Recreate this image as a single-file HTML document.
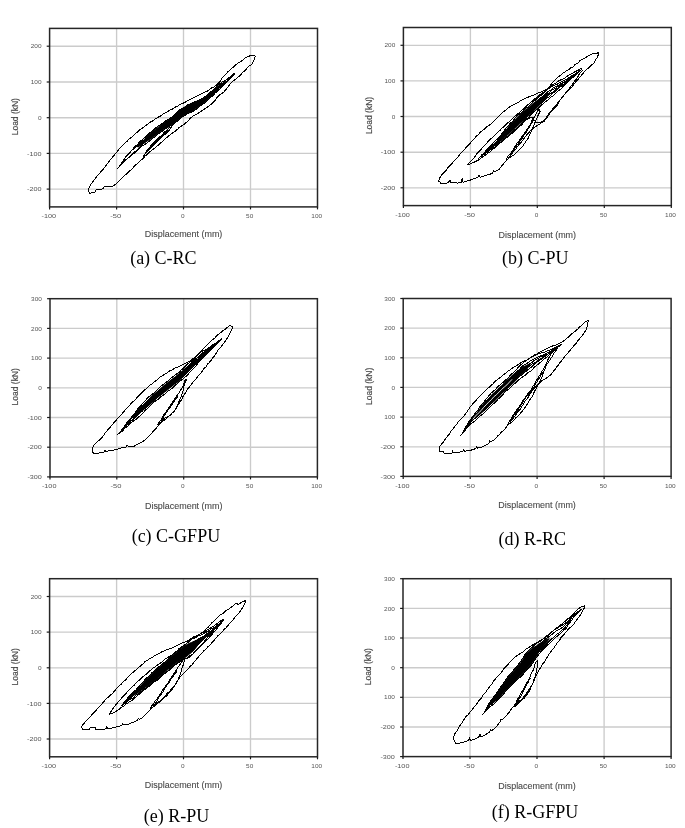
<!DOCTYPE html>
<html><head><meta charset="utf-8"><title>Hysteresis loops</title>
<style>
html,body{margin:0;padding:0;background:#fff;}
svg{display:block;}
.tk{font-family:"Liberation Sans",sans-serif;font-size:6px;fill:#555;}
.ax{font-family:"Liberation Sans",sans-serif;font-size:8.8px;fill:#484848;stroke:#484848;stroke-width:0.1;}
.ay{font-family:"Liberation Sans",sans-serif;font-size:8.8px;fill:#484848;stroke:#484848;stroke-width:0.15;}
.cap{font-family:"Liberation Serif",serif;font-size:18px;fill:#000;}
.g{stroke:#cbcbcb;stroke-width:1.35;fill:none;}
.f{stroke:#262626;stroke-width:1.5;fill:none;}
.t{stroke:#1a1a1a;stroke-width:1.2;fill:none;}
.c{stroke:#000;stroke-width:1;fill:none;stroke-linejoin:round;stroke-linecap:round;shape-rendering:crispEdges;}
.cf{stroke:#000;stroke-width:1;fill:#000;stroke-linejoin:round;}
</style></head><body>
<svg width="685" height="828" viewBox="0 0 685 828" style="filter:blur(0.35px)">
<rect x="0" y="0" width="685" height="828" fill="#fff"/>

<g id="plot-a">
<line class="g" x1="116.6" y1="28.4" x2="116.6" y2="206.9"/>
<line class="g" x1="183.5" y1="28.4" x2="183.5" y2="206.9"/>
<line class="g" x1="250.5" y1="28.4" x2="250.5" y2="206.9"/>
<line class="g" x1="49.6" y1="189.1" x2="317.5" y2="189.1"/>
<line class="g" x1="49.6" y1="153.4" x2="317.5" y2="153.4"/>
<line class="g" x1="49.6" y1="117.7" x2="317.5" y2="117.7"/>
<line class="g" x1="49.6" y1="82" x2="317.5" y2="82"/>
<line class="g" x1="49.6" y1="46.2" x2="317.5" y2="46.2"/>
<path class="c" d="M88.3 190.8 L89.7 186.2 L91.5 183.6 L93.7 180.5 L95.5 178.3 L97.4 175.7 L100 173.2 L101.2 171.1 L103 169.6 L104.6 167.2 L106.6 164.8 L108.4 162.7 L109.8 160.3 L111.6 158.6 L113.2 156.3 L115.3 154 L117.1 151.6 L118.7 149.4 L120.9 147.4 L122.5 145.6 L124.6 143.2 L126.9 141.5 L128.6 139.5 L130.9 137.8 L133.1 135.7 L135.3 133.8 L137.1 132.4 L139 130.5 L141.1 128.9 L143.6 127.2 L145.8 125.4 L147.8 124.1 L150.2 122.2 L152.8 120.9 L155 119.1 L157.3 117.6 L160.1 116.3 L162.8 114.3 L165.3 113 L167.8 111.4 L170.4 109.8 L172.5 109 L175.2 107.1 L177.3 106.3 L179.7 104.6 L182.2 103.7 L184.8 102.4 L187.2 100.9 L189.9 99.8 L192.9 98.1 L194.9 96.9 L197.4 95.9 L200.2 94.6 L202.3 93.4 L205 92.1 L207.5 91 L209.5 89.6 L211.9 87.8 L214.2 86.8 L216.2 85.4 L217.6 83.8 L220 81.4 L221.8 78.5 L223.7 76.2 L225.9 73.9 L227.8 71.9 L230 70 L232 68.3 L234.5 66 L236.4 64.3 L238.5 62.6 L240.9 61.7 L242.8 60 L245.7 57.7 L248.9 56.2 L252.1 55.3 L253.8 55.6 L255.3 56.3 L254.4 59.1 L252.8 62.9 L251.3 64.6 L248.9 66.2 L246.9 68.4 L245 70.6 L242.7 72.4 L240.9 74.8 L238.8 76.5 L236.7 78.3 L234.2 80.2 L232.2 82 L229.9 84.4 L228 86.9 L226.3 89.1 L224.2 91.7 L222.1 93.3 L219.6 95 L217.5 96.9 L215.7 99.6 L213.7 101.8 L211.5 104.2 L209.1 105.7 L207.4 107.2 L205.3 108.4 L202.8 110.1 L200.8 111.6 L199.1 112.7 L195.7 114.8 L192.7 116.3 L190.2 118.2 L188.4 120.8 L185.1 123.4 L183.8 124.7 L181.4 126.1 L179.2 127.4 L177.4 129.4 L175 131.3 L172.8 132.9 L170.9 134.2 L168.5 136 L166.3 138 L164.3 139.7 L162.1 141.8 L160.1 143.3 L158.1 145.3 L155.9 147.1 L153.8 148.7 L151.7 150.2 L149.6 152.1 L147.4 154.2 L145.2 156.1 L143.2 158.3 L140.8 160.3 L138.9 162.4 L136.8 164 L134.4 166.2 L132.6 168.2 L130 170.7 L128.4 172.3 L126 174.3 L123.8 176.5 L121.7 178.4 L120 180.3 L117.3 182.9 L115.3 184.4 L112.5 186.3 L110.2 186.8 L107 186.6 L104.7 186 L103.7 187.9 L101.8 189 L98.8 189.7 L96.1 190 L94.7 192.3 L89.8 193.3Z"/>
<path class="c" d="M143.2 156.5 L145 154.4 L146.8 150.8 L148.5 148.7 L150 146.7 L152.1 144.5 L154 142.7 L155.7 140.5 L158.1 138.6 L159.8 136.9 L162.2 134.9 L163.8 132.7 L166.4 130.5 L168.9 128.1 L172 126.7 L170.8 128.4 L167.8 131.8 L166.2 133.5 L163.8 135 L162.1 137.2 L159.7 139.4 L158.1 141.2 L155.8 143.2 L153.7 145.2 L151.8 146.9 L150 149.1 L147.7 150.9 L146 153Z"/>
<path class="c" d="M144.8 154.1 L146 152.6 L148 150.4 L150.2 148.1 L151.9 145.9 L153.9 143.6 L155.9 141.5 L158.1 139.8 L159.8 137.9 L162.3 135.8 L164.4 133.9 L166.4 132.1 L167.9 130.5"/>
<path class="cf" d="M138.1 147.2 L140.4 143.7 L143.2 140.8 L145.5 138.1 L147.8 135.6 L150.3 133.6 L152.9 131.1 L155.4 129.4 L158.3 127.2 L160.5 124.9 L163 123.1 L165.5 121.4 L168 120 L171 118 L173 116.4 L175.6 113.7 L177.9 111.3 L180.7 109.5 L183.1 108 L185.5 106.5 L188 105.3 L190.5 103.8 L193.2 102.6 L195.9 101.6 L198.5 100.6 L201 99.6 L203.3 98 L206.2 96.3 L208.5 94.6 L210.6 92.4 L213.7 90 L216.1 88 L218.2 85.9 L221 84.3 L223.7 82.7 L226.1 81.4 L223.6 84.2 L220.8 86.5 L218.2 89.2 L215.7 92.1 L213.5 94.5 L211 97 L208.4 99 L206.1 101.6 L203.4 103.6 L201 105.2 L198.5 107.1 L195.6 108.8 L193.5 110.4 L190.9 112.3 L188.3 113.1 L185.8 114.4 L183.4 116.1 L180.8 117.8 L178 120 L175.9 122.2 L173.2 124 L170.4 125.6 L168.3 127.2 L165.8 128.3 L163.2 130.1 L160.6 131.6 L158.4 133.3 L155.9 135.6 L152.8 137 L150.8 139.1 L148 140.4 L145.4 142.4 L142.9 143.8 L140.3 145.5Z"/>
<path class="c" d="M117.8 168.6 L120.2 165 L122.8 161.3 L124.8 158.2 L127.5 154.6 L129.7 152.1 L132.5 149.3 L134.8 146.7 L137.4 144.4 L139.7 141.9 L142.8 139 L145.3 137.1 L147.8 134.5 L150 132.5 L152.9 130.6 L155 128.6 L157.4 126.5 L159.8 125.2 L162.4 123.5 L164.9 121.4 L167.6 119.6 L170 118.4 L172.9 116.5 L175.2 114.4 L177.9 111.6 L180.3 109.3 L182.8 108 L185.3 106.8 L187.5 105 L190.4 103.8 L192.6 102.7 L195 101.8 L198 100.4 L200.2 99.3 L202.7 98.2 L204.9 96.5 L207.4 95 L210.2 92.3 L212.9 90.5 L215.1 87.6 L217.5 85.4 L220.1 83.5 L222.5 81.8 L225.2 80.5 L227.9 78.5 L230.1 76.8 L232.6 74.9 L234.9 72.9 L233 75.6 L230.2 78.5 L227.9 80.8 L225 83.3 L222.6 85.9 L220.5 88.7 L217.9 90.5 L214.8 93.5 L212.9 95.7 L210.2 97.7 L207.6 100.6 L205.4 102.6 L203 104.2 L199.9 106 L197.7 108.2 L195.4 109.9 L192.7 111.5 L190.1 112.7 L187.3 113.9 L184.9 115.3 L182.7 116.7 L179.8 118.8 L177.7 121.2 L174.8 122.8 L172.6 125 L170 126.1 L167.7 127.3 L164.9 129.1 L162.9 130.9 L160.3 132.7 L157.4 134.4 L155.4 136.8 L152.4 138.3 L150.1 140.7 L147.5 142.3 L145.2 144.5 L142.4 145.8 L139.9 148.1 L137.7 150.2 L135.2 152.8 L132.5 154.5 L130.4 156.5 L127.7 158.4 L124.8 161 L122.4 163.4 L120 165.6Z"/>
<path class="c" d="M120.8 164 L123.8 160.4 L126 156.7 L128.7 154.1 L131.3 150.8 L133.9 148.5 L137.1 146.4 L139.6 144 L142.4 141.2 L144.5 139.7 L147.5 137.4 L150.1 136.5 L147.3 139.6 L144.5 142 L141.9 144.7 L139.8 147 L137.1 149.7 L134.1 152.6 L131.8 154.7 L128.6 157.1 L126.2 159.6 L123.4 161.5Z"/>
<path class="c" d="M205.3 99.3 L207.6 97.2 L210.5 94.1 L212.6 91.3 L215.8 88.9 L218.4 87 L220.7 84.3 L223.8 82.4 L225.9 80.3 L228.6 78 L231 76.4 L234.3 74.3 L231.7 76.6 L228.5 79.5 L226.4 82.3 L223.4 84.2 L220.8 86.6 L218.5 88.7 L215.8 91.5 L213.1 93.9 L210.3 95.8 L207.5 97.9Z"/>
<rect class="f" x="49.6" y="28.4" width="267.9" height="178.5"/>
<line class="t" x1="49.6" y1="206.9" x2="49.6" y2="209.4"/>
<text class="tk" x="48.8" y="218.4" text-anchor="middle" textLength="14.5" lengthAdjust="spacingAndGlyphs">-100</text>
<line class="t" x1="116.6" y1="206.9" x2="116.6" y2="209.4"/>
<text class="tk" x="115.8" y="218.4" text-anchor="middle" textLength="10.9" lengthAdjust="spacingAndGlyphs">-50</text>
<line class="t" x1="183.5" y1="206.9" x2="183.5" y2="209.4"/>
<text class="tk" x="182.7" y="218.4" text-anchor="middle" textLength="3.6" lengthAdjust="spacingAndGlyphs">0</text>
<line class="t" x1="250.5" y1="206.9" x2="250.5" y2="209.4"/>
<text class="tk" x="249.7" y="218.4" text-anchor="middle" textLength="7.2" lengthAdjust="spacingAndGlyphs">50</text>
<line class="t" x1="317.5" y1="206.9" x2="317.5" y2="209.4"/>
<text class="tk" x="316.7" y="218.4" text-anchor="middle" textLength="10.8" lengthAdjust="spacingAndGlyphs">100</text>
<line class="t" x1="46.7" y1="189.1" x2="49.6" y2="189.1"/>
<text class="tk" x="41.5" y="191.2" text-anchor="end" textLength="14.5" lengthAdjust="spacingAndGlyphs">-200</text>
<line class="t" x1="46.7" y1="153.4" x2="49.6" y2="153.4"/>
<text class="tk" x="41.5" y="155.5" text-anchor="end" textLength="14.5" lengthAdjust="spacingAndGlyphs">-100</text>
<line class="t" x1="46.7" y1="117.7" x2="49.6" y2="117.7"/>
<text class="tk" x="41.5" y="119.8" text-anchor="end" textLength="3.6" lengthAdjust="spacingAndGlyphs">0</text>
<line class="t" x1="46.7" y1="82" x2="49.6" y2="82"/>
<text class="tk" x="41.5" y="84.1" text-anchor="end" textLength="10.8" lengthAdjust="spacingAndGlyphs">100</text>
<line class="t" x1="46.7" y1="46.2" x2="49.6" y2="46.2"/>
<text class="tk" x="41.5" y="48.4" text-anchor="end" textLength="10.8" lengthAdjust="spacingAndGlyphs">200</text>
<text class="ax" x="183.6" y="237.3" text-anchor="middle" textLength="77.5" lengthAdjust="spacingAndGlyphs">Displacement (mm)</text>
<text class="ay" transform="translate(17.9 116.7) rotate(-90)" text-anchor="middle" textLength="37.2" lengthAdjust="spacingAndGlyphs">Load (kN)</text>
<text class="cap" x="163.4" y="263.7" text-anchor="middle">(a) C-RC</text>
</g>
<g id="plot-b">
<line class="g" x1="470.4" y1="27.5" x2="470.4" y2="205.6"/>
<line class="g" x1="537.3" y1="27.5" x2="537.3" y2="205.6"/>
<line class="g" x1="604.3" y1="27.5" x2="604.3" y2="205.6"/>
<line class="g" x1="403.4" y1="187.8" x2="671.3" y2="187.8"/>
<line class="g" x1="403.4" y1="152.2" x2="671.3" y2="152.2"/>
<line class="g" x1="403.4" y1="116.5" x2="671.3" y2="116.5"/>
<line class="g" x1="403.4" y1="80.9" x2="671.3" y2="80.9"/>
<line class="g" x1="403.4" y1="45.3" x2="671.3" y2="45.3"/>
<path class="c" d="M438.6 181.1 L439.1 179.4 L440.8 176 L442.1 174.4 L443.9 172.6 L446.2 170.3 L447.6 167.7 L449.6 165.7 L452.1 163.3 L453.8 161 L456.1 158.8 L458.1 156.7 L460.1 154 L462.2 151.9 L464 149.8 L466 147.7 L467.7 145.6 L469.8 143.7 L471.9 141.3 L473.8 139.4 L475.9 136.6 L478.2 134.6 L480.3 132.3 L482 130.9 L484.2 129.4 L485.7 127.5 L487.8 126 L490.3 124.5 L492.3 122.6 L494.2 120.7 L495.9 118.9 L498.3 116.6 L500.1 115.1 L501.8 113.2 L503.8 111.4 L505.9 110 L508.1 108.2 L509.7 106.9 L512.7 105.2 L515.2 103.7 L518 102.7 L519.7 101.3 L522.2 100.1 L525.1 98.5 L526.9 97.8 L529.7 96.5 L532.5 95.6 L535.3 94.2 L538 92.9 L541.5 92 L544.4 90.3 L547.5 89.2 L549.2 88.4 L551.3 84 L552.9 82.2 L555.2 79.6 L557.4 77.5 L560.1 75.7 L562 73.9 L564.5 72.2 L566.6 70.6 L568.8 69.7 L570.9 67.8 L573.3 66.7 L574.8 64.8 L577.7 63.3 L580 60.7 L582.8 59.3 L585.6 57.6 L588.2 55.8 L591.4 54.2 L593.9 53.6 L598.8 52.8 L598.2 55 L597 57.9 L595.4 60.1 L594.1 62.9 L591.7 65 L590 66.7 L587.6 68.7 L585.1 71.1 L583.3 73 L581.4 75.3 L579.5 77.6 L577.6 79.9 L575.6 82 L574.2 83.9 L572.5 86.4 L570.6 88.1 L568.8 90.2 L566.7 92.4 L564.7 94.5 L563.1 96.3 L561.4 98.1 L560.1 100.2 L558.6 102.3 L557.4 104.9 L556.1 106.6 L554 109.2 L551.9 111.3 L549.8 113.3 L547.9 116.5 L546.2 118.8 L544.3 121.1 L541.8 122.4 L540.2 123.8 L537.1 125.7 L534.2 127.3 L532.1 129.4 L529.8 131.4 L528.3 133.4 L526 135.7 L523.9 138.7 L522.1 141.2 L520.2 143.1 L518.6 145 L517.3 146.9 L515.8 149 L514 151.2 L512.1 153.3 L510.8 155 L509.3 157 L507.8 159.2 L505.9 161.2 L504.1 163.1 L502.4 165.2 L500.7 167.3 L499.1 169.3 L496.5 170.9 L494.5 171.2 L493.3 170.4 L492.7 173 L490 174.2 L486.9 174.9 L483.5 176.2 L480.3 177.1 L478.8 175.1 L477.8 177.5 L475.9 178.1 L472.9 179.1 L469.8 180.3 L466 181.3 L463 182.2 L462.2 178.2 L461.1 182.3 L458 183.1 L455 182.9 L450.8 182.8 L449.9 179.9 L448.2 182.8 L444.7 183.5 L440.5 183.2 L439.1 180.8Z"/>
<path class="c" d="M467.6 164.4 L469.7 162.3 L472.5 159.4 L474.2 157.6 L475.8 155.3 L477.4 153.1 L478.7 151.7 L480.9 149.7 L482.3 147.7 L484.6 145.5 L486.4 143.6 L488.3 141.2 L490.4 139.1 L492.6 137.4 L495.1 135.2 L496.8 133.2 L498.5 131.6 L500.5 129.9 L502.1 128.1 L504.4 126.1 L506.2 124.2 L507.7 122.6 L509.7 121.4 L511.5 119.3 L513.4 117.7 L514.9 116.3 L517.1 114.4 L519.2 112.8 L521.2 110.8 L523.5 108.9 L525.6 106.8 L527.9 104.7 L529.8 103.1 L531.9 101.5 L534.1 99.2 L536.3 98 L538.5 95.9 L540.4 94.2 L542.6 93.1 L545.1 91 L546.9 89 L549.1 87.3 L551.5 85.7 L553.2 84.3 L555.9 83.1 L557.6 81.5 L559.8 80.2 L562.4 79.4 L564.5 78.2 L566.7 76.6 L568.6 75.3 L571.3 74 L573.4 72.8 L575.5 71.4 L577.5 70.6 L581.4 68.4 L582.3 70.3 L581.3 72 L579.3 74 L577.9 76.7 L576.3 79 L575 80.6 L573.6 82.8 L572.3 84.6 L570.2 86.7 L569.1 89.2 L566.9 91.1 L565.3 93.6 L563.3 95.7 L561.7 98.1 L559.9 100.4 L558.2 102.2 L556.7 104.6 L554.5 106.9 L552.5 109.2 L550.9 111.3 L549.3 112.9 L547 116.2 L545.4 118.8 L542.8 121 L539.8 122.7 L536.2 122 L534.3 120.4 L532.4 117.9 L530 117.7 L528.4 118.6 L526 120.1 L523.6 122.6 L521.5 124.9 L518.9 127 L517.2 129 L514.4 131 L512.7 132.8 L510.1 134.7 L508.3 136.9 L505.8 138.3 L503.6 140.3 L501.5 142 L499.1 143.9 L497.3 146 L494.8 147.8 L492.4 149.3 L490.8 151.4 L488.6 152.8 L486.1 154.6 L483.9 155.9 L481.9 157.4 L479.7 159.3 L477.6 160.5 L474.9 161.8 L471.6 163.2 L469.2 164.3Z"/>
<path class="c" d="M506.2 160 L506.6 158.9 L508.1 156.2 L510.3 153.8 L512.2 151.1 L513.7 148.9 L515 146.6 L516.2 144.5 L517.8 142 L519.7 140 L521.2 137.5 L522.8 135.4 L524.6 133.1 L526.1 131.3 L527.5 128.5 L529.4 125.7 L530.7 123.6 L531.7 121 L533.3 118.5 L535.1 116.1 L535.8 114 L537.7 111.1 L539 109.1 L540.2 111 L539.1 113.4 L537.7 116.1 L536.4 119.2 L535.3 121.7 L534.5 123.7 L533.4 126.5 L532.2 129 L531.4 131.4 L530.3 133.4 L529.1 135.9 L528.3 138 L526.5 140.5 L525.2 142.4 L523.5 145 L522.2 147.1 L520.1 149.1 L518 151.2 L516 152.9 L514.2 154.7 L510.8 156.9 L507.7 159.1Z"/>
<path class="c" d="M509.2 156.9 L510.3 155.3 L511.6 153.2 L513.3 150.7 L514.7 148.6 L516.3 146.2 L517.8 144.1 L519.4 141.9 L521.1 139.4 L523 137.3 L524.3 134.7 L526.6 132.2 L527.8 129.7 L529.7 126.6 L530.9 124.4 L532.6 121.5 L533.3 119.8"/>
<path class="cf" d="M491.8 146.8 L494.4 143.4 L497.3 141 L499.4 138.1 L502.2 134.8 L504.7 131.6 L507.3 128.5 L509.5 125.5 L512.2 122.8 L514.7 120.2 L517.3 117.3 L519.6 114.9 L522.3 112.6 L524.8 110.4 L527.3 108.4 L529.8 106.5 L532.1 104.3 L534.9 102.1 L537.5 100.4 L539.8 98.4 L542.7 96.5 L545 95.2 L547.2 93.7 L550.1 93.2 L547.4 96.6 L545 99.1 L542.7 101.5 L540 104.5 L537.3 107.3 L534.8 109.7 L532.4 112.4 L529.7 114.5 L527.3 116.9 L525 119 L522.5 121.4 L519.7 123.7 L517.2 126.4 L514.8 128.6 L512.1 130.7 L509.5 133.2 L507.2 135.5 L504.3 137.7 L502.3 139.8 L499.3 141.9 L496.7 143.8 L494.8 145.6Z"/>
<path class="c" d="M478.1 159 L480.8 156.5 L483.1 153.8 L485.6 151.1 L488.1 148.3 L490.6 145.8 L493.2 143.1 L495.3 140.6 L498.2 138.6 L500.6 135.2 L503.2 132.3 L505.5 128.9 L507.9 126 L510.4 123.2 L513.1 120.9 L515.2 118 L517.7 115.2 L520.7 113.2 L523.3 110.9 L525.2 108.7 L528.1 106.9 L530.8 104.5 L532.9 102 L535.6 100 L537.8 97.7 L540.2 96.1 L542.7 94.2 L545.2 91.9 L547.7 89.2 L550.7 87.3 L553.2 85.8 L555.2 84.9 L558.1 83.8 L560.7 82 L563.1 81.1 L565.5 79.8 L567.8 78.4 L570.7 76.3 L572.7 75.3 L575.7 73.4 L577.9 72.3 L580.3 70.3 L578 72.5 L575.4 75.2 L573 77.4 L570.3 79.6 L567.9 81.7 L565.6 84 L562.9 86.7 L560.8 89.1 L558 91.1 L555.2 93.7 L553.1 95.7 L550.4 97.7 L548.3 99.8 L545.6 101.5 L542.9 104 L540.4 106 L538.1 108.5 L535.7 110.3 L532.7 112.7 L530.4 115.2 L528.2 117.7 L525.2 120 L523.2 122.3 L520.6 124.2 L518.2 126.9 L515.6 129.2 L512.9 130.9 L510.5 133.7 L507.8 136 L505.8 137.8 L503.1 140.4 L500.5 142.4 L497.8 145 L495.7 146.6 L492.7 148.4 L490.7 149.6 L488.1 151.8 L485.8 153.2 L483 155.2 L480.3 156.9Z"/>
<path class="c" d="M483.8 153.6 L486.4 151 L488.9 148.5 L491.3 145.8 L494.3 143.7 L496.2 141.6 L499.2 138.6 L501.6 135.8 L504 132.7 L506.2 130.5 L509.3 127.3 L511.5 124.4 L514.2 121.9 L516.8 119.7 L519.2 117.4 L521.3 114.5 L523.8 112.4 L526.2 110.1 L529 108.5 L531.5 106.4 L534.3 103.6 L536.6 101.6 L538.7 99.9 L541.3 97.4 L544.1 95.6 L546.6 93 L549 90.8 L551.8 89.6 L553.8 87.4 L556.3 86.3 L559.3 85.2 L561.7 83.1 L564.2 82 L566.6 80.5 L568.7 78.3 L571.7 77.3 L574.1 75.4 L571.6 77.8 L568.7 79.5 L566.3 81.6 L564 83.8 L561.3 86.1 L559.1 88.1 L556.7 90.2 L553.7 92.6 L551.3 94.6 L549.3 96.7 L546.2 98.4 L543.7 100.9 L541.7 102.8 L539 104.8 L536.7 107.2 L534.1 109.2 L531.3 111.4 L529.1 114.1 L526.3 116.6 L523.8 118.5 L521.3 120.7 L519.2 123 L516.3 125.5 L513.9 128.1 L511.2 130.5 L508.7 132.8 L506.6 134.6 L504 137.1 L501.3 139.5 L498.9 142.5 L496.8 144.6 L493.7 146 L491.8 147.6 L489.2 149.6 L486.8 151.3Z"/>
<path class="c" d="M480.2 157.1 L482.2 154.4 L485.2 152.3 L487.3 149.9 L490.3 147.5 L492.5 145.2 L494.8 143.6 L497.6 141 L499.7 138.3 L502.6 135.8 L504.8 132.9 L507.6 130.6 L510.2 127.9 L512.3 125.2 L515.2 123.1 L517.7 120.7 L520.2 119.1 L517.7 122.3 L515 124.3 L512.8 127.3 L510.3 129.8 L507.3 132.7 L504.9 134.8 L502.4 137.8 L499.7 140.4 L497.5 142.9 L494.7 145.1 L492.7 147.2 L489.9 149 L487.4 151 L484.7 153.1 L482.8 155Z"/>
<path class="c" d="M540 101.4 L542.6 98.5 L545.4 96.3 L547.4 93.9 L550 92.3 L552.3 89.9 L555.3 88.3 L557.4 86.9 L560.3 85.2 L562.9 83 L565.6 81.6 L567.5 79.3 L570.4 77.8 L572.8 75.8 L575.4 74.1 L578.1 72.7 L575.2 74.6 L573.1 76.3 L570.6 78.7 L567.8 80.3 L565.6 82.5 L562.7 84.8 L560.5 86.3 L557.6 88.2 L555.2 90.3 L552.9 92.1 L550.4 93.9 L547.3 95.6 L545.4 97.8 L542.4 99.5Z"/>
<rect class="f" x="403.4" y="27.5" width="267.9" height="178.1"/>
<line class="t" x1="403.4" y1="205.6" x2="403.4" y2="208.1"/>
<text class="tk" x="402.6" y="217.1" text-anchor="middle" textLength="14.5" lengthAdjust="spacingAndGlyphs">-100</text>
<line class="t" x1="470.4" y1="205.6" x2="470.4" y2="208.1"/>
<text class="tk" x="469.6" y="217.1" text-anchor="middle" textLength="10.9" lengthAdjust="spacingAndGlyphs">-50</text>
<line class="t" x1="537.3" y1="205.6" x2="537.3" y2="208.1"/>
<text class="tk" x="536.5" y="217.1" text-anchor="middle" textLength="3.6" lengthAdjust="spacingAndGlyphs">0</text>
<line class="t" x1="604.3" y1="205.6" x2="604.3" y2="208.1"/>
<text class="tk" x="603.5" y="217.1" text-anchor="middle" textLength="7.2" lengthAdjust="spacingAndGlyphs">50</text>
<line class="t" x1="671.3" y1="205.6" x2="671.3" y2="208.1"/>
<text class="tk" x="670.5" y="217.1" text-anchor="middle" textLength="10.8" lengthAdjust="spacingAndGlyphs">100</text>
<line class="t" x1="400.5" y1="187.8" x2="403.4" y2="187.8"/>
<text class="tk" x="395.3" y="189.9" text-anchor="end" textLength="14.5" lengthAdjust="spacingAndGlyphs">-200</text>
<line class="t" x1="400.5" y1="152.2" x2="403.4" y2="152.2"/>
<text class="tk" x="395.3" y="154.3" text-anchor="end" textLength="14.5" lengthAdjust="spacingAndGlyphs">-100</text>
<line class="t" x1="400.5" y1="116.5" x2="403.4" y2="116.5"/>
<text class="tk" x="395.3" y="118.6" text-anchor="end" textLength="3.6" lengthAdjust="spacingAndGlyphs">0</text>
<line class="t" x1="400.5" y1="80.9" x2="403.4" y2="80.9"/>
<text class="tk" x="395.3" y="83" text-anchor="end" textLength="10.8" lengthAdjust="spacingAndGlyphs">100</text>
<line class="t" x1="400.5" y1="45.3" x2="403.4" y2="45.3"/>
<text class="tk" x="395.3" y="47.4" text-anchor="end" textLength="10.8" lengthAdjust="spacingAndGlyphs">200</text>
<text class="ax" x="537.3" y="238.1" text-anchor="middle" textLength="77.5" lengthAdjust="spacingAndGlyphs">Displacement (mm)</text>
<text class="ay" transform="translate(371.7 115.5) rotate(-90)" text-anchor="middle" textLength="37.2" lengthAdjust="spacingAndGlyphs">Load (kN)</text>
<text class="cap" x="535.3" y="263.9" text-anchor="middle">(b) C-PU</text>
</g>
<g id="plot-c">
<line class="g" x1="116.8" y1="298.7" x2="116.8" y2="476.9"/>
<line class="g" x1="183.7" y1="298.7" x2="183.7" y2="476.9"/>
<line class="g" x1="250.5" y1="298.7" x2="250.5" y2="476.9"/>
<line class="g" x1="50" y1="447.2" x2="317.4" y2="447.2"/>
<line class="g" x1="50" y1="417.5" x2="317.4" y2="417.5"/>
<line class="g" x1="50" y1="387.8" x2="317.4" y2="387.8"/>
<line class="g" x1="50" y1="358.1" x2="317.4" y2="358.1"/>
<line class="g" x1="50" y1="328.4" x2="317.4" y2="328.4"/>
<path class="c" d="M92.9 447.5 L94 445.2 L96 443.3 L97.2 441.5 L99.5 440.1 L101.8 437.6 L103.1 436.1 L104.7 433.6 L106.3 431.7 L108.1 429.5 L109.8 427.7 L111.6 425.4 L113.4 423.3 L115.6 421.1 L117.1 419.2 L118.9 417.1 L121.3 415 L122.8 412.9 L124.8 410.6 L126.5 408.4 L128.5 406.5 L130.4 404.3 L132.1 402.5 L134.5 400.5 L136.2 398.5 L137.9 396.6 L140 394.5 L142 392.6 L143.9 390.6 L145.8 389 L147.9 387.3 L149.7 385.4 L152.2 383.7 L154 382.2 L155.9 380.8 L157.9 379.2 L159.8 377.2 L162.7 375.7 L164.7 374 L167.5 372.6 L169.8 370.8 L172.8 369.7 L174.8 368.1 L177.4 367.1 L180.1 365.9 L182.8 364.5 L185.4 363.5 L187.9 362.2 L190.2 361.1 L192.5 359.2 L194.4 357.5 L196.2 356.1 L197.9 354.4 L199.9 352.1 L202.2 350.2 L203.9 348 L205.8 346 L208.1 343.9 L209.9 342 L212 340 L214.3 338.5 L216.1 336.6 L217.8 334.9 L220 333.2 L222.2 331.3 L224.3 329.9 L226.8 327.9 L229.3 325.8 L233 326.2 L232.3 328.7 L230 333 L229.1 335.2 L227.6 337.8 L226 340 L224.8 341.9 L223 344 L221.5 346.2 L220.1 348 L218.3 349.9 L216.9 352 L215.5 354.2 L214.3 356 L212.5 358.1 L211.3 360 L209.5 362.3 L207.8 363.9 L206.3 366.6 L204 368.4 L202.2 371.1 L200.7 373.2 L199.2 375 L197.3 376.9 L196 379 L193.7 381.3 L191.9 383.8 L189.9 386.3 L188.1 388.5 L185.9 392.2 L184.5 394.3 L182.8 396.7 L181.8 399.5 L180.1 401.8 L178.5 404.5 L176.9 407.1 L175.5 409.7 L174 411.4 L171.7 413.6 L170 415.4 L167.8 416.8 L164 418.7 L162.2 420.8 L159.8 423 L158.2 425.9 L156.1 428.3 L153.8 430.6 L151.8 433.2 L150 435.1 L148 437.1 L145.7 439.2 L143 441.5 L140 443.1 L136.8 444.5 L134.3 446.2 L130.6 446.7 L128.2 446.3 L127.1 445.3 L126 447.3 L121.8 447.9 L119.3 448.5 L115.9 449.6 L112.9 450.4 L109.8 450.8 L105.5 451.4 L105.3 450.1 L104 452 L101.2 452.9 L97.9 453.1 L93.2 453.2 L92.5 450.4Z"/>
<path class="c" d="M157.8 424.9 L158.6 423.1 L160.5 420.7 L162.1 417.9 L163.8 414.9 L165.7 412.5 L167 410.6 L168.7 408 L169.9 406.1 L171.4 404 L172.8 401.8 L174.5 399.1 L176 396.8 L177.7 394.6 L179.4 392.5 L180.6 390 L182.1 387.8 L183.5 384.8 L184.2 382.1 L184.9 380.2 L186.4 379.1 L185.8 381.3 L184.4 384.8 L183.7 387.7 L183.2 390.2 L182.3 393 L181.6 395.4 L180.5 397.7 L179.5 400.4 L178.3 403.1 L177 405.8 L175.9 408.7 L174.2 411.2 L171.9 413.1 L169.8 415.3 L168.1 416.9 L165.9 418.9 L164 420.4 L162.2 421.9 L159.3 424.2Z"/>
<path class="c" d="M159.8 423.7 L161.2 421.8 L162.3 418.8 L164.2 416 L165.9 413.4 L167.2 411.1 L169.1 408.7 L170.7 406.8 L172.1 404.4 L173.6 402.1 L175.3 399.1 L177.1 397.3 L177.9 395.2"/>
<path class="cf" d="M134.2 417.2 L136.3 413.2 L138.9 410.2 L141.5 407.2 L144.4 403.7 L146.9 401.1 L149.5 398.7 L151.8 395.6 L154.7 393.5 L157.3 391.5 L159.7 389.4 L162.2 387.1 L164.5 385.1 L167.2 383 L170.1 380.7 L172.6 378.7 L175.1 377.1 L177.4 374.9 L180.4 372.8 L182.7 370.5 L184.9 368.6 L187.7 366.5 L190.2 364.4 L193 362.8 L195.3 360.5 L198 359.1 L195.7 362.8 L192.8 366.4 L190.1 369.3 L187.7 372.3 L185.2 374.9 L182.4 377.4 L180.1 379.8 L177.7 382.2 L174.7 384 L172.3 386 L169.6 388.1 L167.1 390.3 L164.7 392 L162.1 394.2 L159.5 396.1 L156.8 398 L154.8 400.6 L151.7 402.8 L149.6 404.9 L146.6 407.1 L144.2 409.2 L141.7 411.3 L139.4 413.7 L136.6 415.9Z"/>
<path class="c" d="M117.7 434.4 L120 432 L122.3 429 L125.4 425.1 L127.5 421.9 L130.5 418.8 L132.6 415.5 L135.6 412.2 L137.8 408.7 L140.7 405.8 L142.9 403.1 L145.4 400.6 L147.9 397.5 L150.6 395.6 L153.3 393.4 L155.9 391.3 L158.2 388.8 L160.5 386.5 L163.3 384.3 L165.9 382.3 L168.3 380.8 L170.6 378.2 L173.4 376.3 L176.1 374.2 L178.7 372.7 L181.2 370.1 L183.4 368 L186.1 365.5 L188.5 363.2 L191.3 361.2 L194 358.5 L196.1 356.5 L198.8 354.3 L201.1 352.1 L203.7 350.5 L206.7 349.1 L209.2 347.5 L211.8 345.7 L214.2 343.7 L216.7 342.5 L218.9 340.7 L221.9 338.8 L219.2 341.4 L216.4 344.6 L213.7 346.7 L211.6 349.3 L208.6 351.8 L206.3 354.1 L203.8 356.6 L201.4 359.2 L198.5 362 L196.5 365.4 L193.4 368.6 L191 371 L188.6 373.7 L186.1 376.3 L183.4 378.5 L180.7 380.7 L178.5 382.5 L175.9 384.7 L173.4 387.3 L170.9 389.2 L168.5 390.8 L166.1 393.2 L163 395.3 L160.6 396.8 L158.5 399 L155.8 400.7 L153.3 402.9 L150.4 405.4 L147.7 408.1 L145.3 410.3 L143.1 412.8 L140.7 415.2 L138.2 417.3 L135.6 419.7 L132.6 421.7 L130.2 423.9 L127.9 426.1 L124.9 428 L122.8 430.7 L120.3 432.6Z"/>
<path class="c" d="M124.1 427.8 L126.5 425 L128.7 422 L131.6 418.5 L133.8 415.6 L136.7 412.8 L138.7 409.5 L141.2 407.3 L143.8 404.4 L146.4 401.9 L148.9 399.1 L151.8 397 L154.1 394.9 L156.8 392.2 L158.9 390.2 L161.5 388.7 L164.2 386.1 L166.3 384.6 L169.1 382.3 L171.5 380.2 L174.2 378.4 L176.8 376.6 L178.7 374.2 L181.3 372.5 L184.1 369.6 L186.3 367.6 L189 365.5 L191.4 363.1 L193.7 361 L196.4 358.2 L199 356.6 L201.2 353.9 L204.1 352 L206.3 350.3 L208.8 348.6 L211.5 347.3 L214.3 345.1 L211.5 348.1 L209.3 350.3 L206.6 352.5 L203.9 354.5 L201.7 357.5 L199.3 360 L196.4 362.9 L194.2 365.6 L191.6 368.3 L189 370.9 L186.2 373.3 L183.9 376 L181.5 377.7 L178.8 379.8 L176.4 381.8 L173.7 384.4 L171.5 386.1 L169 387.9 L166.3 389.7 L163.9 391.9 L161.7 394 L159.3 395.9 L156.8 398 L153.7 399.9 L151.6 402.7 L148.9 404.9 L146.4 407.3 L143.7 409.4 L141.8 411.6 L138.8 413.7 L136.3 416.2 L134.1 418.5 L131.4 420.8 L129.1 423.6 L126.6 425.5Z"/>
<path class="c" d="M122.2 430.7 L124.6 426.9 L127.3 424.4 L129.5 420.9 L131.9 418.3 L134.9 415.6 L137.5 412.6 L139.6 410.3 L142.3 407.5 L144.9 404.9 L147 402.5 L149.5 400.2 L152.2 397.8 L155 395.5 L157.4 393.3 L160.2 391.8 L162.8 389.7 L165.1 388.6 L162.4 390.6 L159.7 392.9 L157.6 395.1 L155.1 397.6 L152.4 400 L149.9 402.4 L147.4 404.6 L144.9 407.1 L142.4 410 L139.9 412.2 L137.4 415.3 L134.6 417.3 L132.1 420.3 L129.3 422.2 L127 425.2 L124.7 427.6Z"/>
<path class="c" d="M180.3 376.1 L182.8 373.4 L184.9 370.9 L187.5 368.6 L190.4 365.8 L193.3 363.4 L195.4 360.6 L198.4 358.5 L200.6 355.3 L203.6 353.1 L206.3 351.1 L208.7 349 L211.4 347.2 L213.7 345.6 L216.1 343.5 L218.7 341.3 L216.3 343.9 L213.5 346 L211.1 348.4 L208.9 350.3 L205.8 352.2 L203.2 354.5 L200.6 356.8 L198.4 359.8 L195.5 362.7 L192.8 365.1 L190.2 367.9 L188.1 369.9 L185.4 372.5 L182.4 374.3Z"/>
<rect class="f" x="50" y="298.7" width="267.4" height="178.2"/>
<line class="t" x1="50" y1="476.9" x2="50" y2="479.4"/>
<text class="tk" x="49.2" y="488.4" text-anchor="middle" textLength="14.5" lengthAdjust="spacingAndGlyphs">-100</text>
<line class="t" x1="116.8" y1="476.9" x2="116.8" y2="479.4"/>
<text class="tk" x="116" y="488.4" text-anchor="middle" textLength="10.9" lengthAdjust="spacingAndGlyphs">-50</text>
<line class="t" x1="183.7" y1="476.9" x2="183.7" y2="479.4"/>
<text class="tk" x="182.9" y="488.4" text-anchor="middle" textLength="3.6" lengthAdjust="spacingAndGlyphs">0</text>
<line class="t" x1="250.5" y1="476.9" x2="250.5" y2="479.4"/>
<text class="tk" x="249.7" y="488.4" text-anchor="middle" textLength="7.2" lengthAdjust="spacingAndGlyphs">50</text>
<line class="t" x1="317.4" y1="476.9" x2="317.4" y2="479.4"/>
<text class="tk" x="316.6" y="488.4" text-anchor="middle" textLength="10.8" lengthAdjust="spacingAndGlyphs">100</text>
<line class="t" x1="47.1" y1="476.9" x2="50" y2="476.9"/>
<text class="tk" x="41.9" y="479" text-anchor="end" textLength="14.5" lengthAdjust="spacingAndGlyphs">-300</text>
<line class="t" x1="47.1" y1="447.2" x2="50" y2="447.2"/>
<text class="tk" x="41.9" y="449.3" text-anchor="end" textLength="14.5" lengthAdjust="spacingAndGlyphs">-200</text>
<line class="t" x1="47.1" y1="417.5" x2="50" y2="417.5"/>
<text class="tk" x="41.9" y="419.6" text-anchor="end" textLength="14.5" lengthAdjust="spacingAndGlyphs">-100</text>
<line class="t" x1="47.1" y1="387.8" x2="50" y2="387.8"/>
<text class="tk" x="41.9" y="389.9" text-anchor="end" textLength="3.6" lengthAdjust="spacingAndGlyphs">0</text>
<line class="t" x1="47.1" y1="358.1" x2="50" y2="358.1"/>
<text class="tk" x="41.9" y="360.2" text-anchor="end" textLength="10.8" lengthAdjust="spacingAndGlyphs">100</text>
<line class="t" x1="47.1" y1="328.4" x2="50" y2="328.4"/>
<text class="tk" x="41.9" y="330.5" text-anchor="end" textLength="10.8" lengthAdjust="spacingAndGlyphs">200</text>
<line class="t" x1="47.1" y1="298.7" x2="50" y2="298.7"/>
<text class="tk" x="41.9" y="300.8" text-anchor="end" textLength="10.8" lengthAdjust="spacingAndGlyphs">300</text>
<text class="ax" x="183.7" y="509.3" text-anchor="middle" textLength="77.5" lengthAdjust="spacingAndGlyphs">Displacement (mm)</text>
<text class="ay" transform="translate(18.3 386.8) rotate(-90)" text-anchor="middle" textLength="37.2" lengthAdjust="spacingAndGlyphs">Load (kN)</text>
<text class="cap" x="175.9" y="542.4" text-anchor="middle">(c) C-GFPU</text>
</g>
<g id="plot-d">
<line class="g" x1="470.2" y1="298.5" x2="470.2" y2="476.4"/>
<line class="g" x1="537.1" y1="298.5" x2="537.1" y2="476.4"/>
<line class="g" x1="604.1" y1="298.5" x2="604.1" y2="476.4"/>
<line class="g" x1="403.2" y1="446.8" x2="671.1" y2="446.8"/>
<line class="g" x1="403.2" y1="417.1" x2="671.1" y2="417.1"/>
<line class="g" x1="403.2" y1="387.4" x2="671.1" y2="387.4"/>
<line class="g" x1="403.2" y1="357.8" x2="671.1" y2="357.8"/>
<line class="g" x1="403.2" y1="328.1" x2="671.1" y2="328.1"/>
<path class="c" d="M439 448.2 L439.9 446.1 L442.1 443.5 L443.3 442 L444.6 440 L446.3 437.8 L448.2 435.3 L449.9 433.6 L451.3 430.7 L453 429 L454.7 426.7 L456.6 424.4 L458.3 421.9 L460.5 419.8 L461.9 418.3 L464.2 415.7 L466.3 412.7 L467.4 411.2 L470.1 407.2 L471.2 405.9 L472.7 404 L474.1 402.6 L476.2 400.4 L478 398 L479.9 396 L481.6 394.4 L483.4 392.6 L485.5 390.4 L487.3 388.8 L489.5 386.9 L490.8 385.6 L492.9 383.9 L494.8 381.7 L496.9 379.9 L498.7 378.5 L500.9 377.1 L502.6 375.3 L505.3 373.5 L507.5 371.5 L510.1 369.8 L512.5 368.1 L514.8 366.4 L517.4 365.2 L519.9 363.4 L522.4 361.9 L525.3 360.5 L527.6 359.7 L529.9 358.1 L532.4 356.4 L534.8 354.7 L537.7 353.6 L540.2 351.7 L542.6 350.6 L545.1 349.4 L547.4 348.4 L549.7 347.1 L552.8 345.9 L555.3 345.2 L557.6 344.1 L560.1 342.9 L563.3 341.1 L566 339.1 L568 337.3 L570.1 335.6 L571.9 333.7 L573.9 332.2 L576.2 330.3 L578.2 328.6 L579.8 326.8 L582.9 324.3 L585 322 L588.4 320.2 L587.8 323.4 L587 327.1 L586 330.1 L584.2 332.7 L582.6 335.1 L581.4 336.7 L579.4 338.9 L577.8 340.9 L576.2 343.4 L574 345.5 L571.9 348.3 L570.1 350.3 L568 352.8 L566.2 354.8 L564.6 356.8 L563 358.8 L561.4 360.9 L559.9 362.7 L558.3 365.1 L556.7 366.9 L555.6 369 L553.9 370.8 L552.2 373 L550.1 375.4 L547.8 377 L545.1 379.2 L541.9 380.7 L539.4 383.1 L537.1 385.4 L534.5 388.1 L532.2 390.9 L530.5 393.1 L529.3 395.1 L527.8 397.8 L525.9 400.1 L524.4 402 L523.2 404.5 L521.5 406.8 L520.2 409.2 L518.2 411.1 L517 413 L515.7 415 L514 417.2 L512.5 419 L511.1 421.1 L509.7 423.1 L507.9 424.7 L506.2 427.3 L504.2 429.8 L501.7 431.8 L499.7 434.2 L497.5 436.1 L495.9 438.5 L493.7 440.1 L491.1 441.6 L489.7 440.7 L489 443.1 L487.3 444.5 L484.6 445.6 L481.9 447 L477.3 448.3 L476.9 446.1 L475.9 448.3 L473.5 449.5 L470 450.4 L466.6 450.9 L464.6 451.4 L463.8 449.1 L462.8 451.1 L460.8 451.9 L458 452.4 L453.3 452.7 L452.6 450.8 L452.3 453 L447.7 453.9 L444 452.9 L443.4 451.3 L439.9 451.8Z"/>
<path class="c" d="M507.5 425.1 L508.1 424 L509 422.2 L510.6 419.6 L512.1 416.5 L514.1 413.7 L515.7 411.4 L517.1 409 L519 406.8 L520.6 404.4 L522.1 402.1 L523.5 399.5 L525.5 397.2 L527.2 395.1 L528.3 392.8 L530.2 391.3 L531.6 388.6 L533 386.4 L534.7 383.7 L535.7 381.6 L537.3 379.2 L539 376.2 L540.7 373.7 L542 371.3 L543.7 368.7 L544.9 366.2 L546.2 364.3 L547.2 361.1 L548.4 358.8 L549.8 356 L551.2 353.8 L553.3 351.4 L554.9 349.2 L556.2 347.8 L557.3 348.8 L556.2 350.3 L554.2 352.8 L552.7 355.6 L551.3 357.8 L549.5 360.6 L548.2 362.5 L546.8 364.3 L545.3 367.9 L544.2 370.8 L543.3 373.2 L542.2 376.4 L540.9 379.3 L540 381.1 L538.6 383.8 L537.2 386.5 L535.8 389.2 L534.7 390.9 L533.7 393.2 L532.5 395.9 L531.3 397.9 L529.7 400 L528.3 402.5 L526.9 404.7 L525.6 406.7 L524.1 408.8 L522 411.6 L520 413.8 L518.3 415.9 L515.8 417.8 L513.8 420.1 L510.9 422.8 L508.4 424.5Z"/>
<path class="c" d="M509.8 422 L511 420.3 L512.3 417.9 L514 415 L515.8 412.7 L517.5 410.5 L518.8 408 L520.7 405.5 L522.4 402.9 L523.8 400.7 L525.3 398.2 L526.8 396.3 L528.6 394.2 L530.3 392.2 L531.5 390.3 L533.2 388.3 L534.8 385.5 L535.9 383.4 L537.8 380.7 L539.1 378.5 L540.8 375.6 L542.2 373.2 L543.3 371.2"/>
<path class="cf" d="M472.3 420.2 L474.5 416 L476.9 412.9 L479.7 409.1 L482 405.7 L484.4 402.6 L487 400 L490 397.1 L492.2 394.3 L494.9 392.1 L497.4 389.5 L499.6 387.2 L502.5 385 L504.5 382.6 L507.2 379.9 L510.1 377.8 L512.5 375 L515.1 373.3 L517.6 371.1 L520.1 368.9 L522.5 367 L525.2 366 L527.7 364.7 L530.3 364.7 L527.7 367.9 L525.2 371.1 L522.3 373.7 L519.8 375.8 L517.4 378.5 L514.9 381.5 L512.5 383.8 L509.8 386.2 L507.5 388.4 L505 390.9 L502.2 392.9 L499.8 395.8 L497.1 398.2 L494.9 400.8 L491.9 403.1 L489.4 405.5 L487.3 408 L484.7 410.3 L482 412.3 L479.5 414.8 L477.1 416.5 L474.3 418.5Z"/>
<path class="c" d="M460.3 435.8 L462.8 432.9 L465 428 L467.5 423.9 L470.1 419.8 L473.2 416.3 L475.2 413.1 L478 409.7 L480.4 406 L483.3 402.8 L485.8 399.5 L488.3 396.5 L490.6 393.6 L492.9 391.7 L495.6 389.2 L498 386.5 L500.4 384.4 L503.5 382.1 L505.7 380 L508.5 377.4 L510.5 374.9 L513.3 372.7 L515.8 370 L518.5 367.2 L520.9 364.7 L523.7 362.4 L525.9 361 L528.2 359.2 L531.2 357.4 L533.5 356.2 L536.4 355 L538.8 353.6 L541 352.9 L544 352.7 L546 351.6 L548.8 350.3 L551.2 349.6 L553.9 348.1 L556.5 346.7 L558.9 345.4 L561.7 344 L559.1 346.2 L556.3 348.6 L554 350.7 L551.1 352.6 L548.8 355.4 L546.4 357.4 L543.4 359.7 L541.4 361.5 L538.8 363.7 L536 365.8 L533.4 368.2 L531.4 370.8 L528.3 372.4 L526.3 374.4 L523.3 376.5 L520.6 378.3 L518.3 380.3 L516.2 382.3 L513.1 385 L510.8 387.2 L508.4 389.5 L505.6 391.4 L503.4 394 L500.7 396.7 L498.3 399 L495.5 402 L493.1 404.1 L490.7 406.6 L488.2 408.9 L485.7 411.5 L482.9 414.1 L480.3 415.8 L477.6 418.1 L475.6 420.3 L472.8 422.5 L470 424.3 L467.9 427.2 L465.4 429.9 L462.9 433.3Z"/>
<path class="c" d="M466.3 427.9 L468.4 423.8 L471.3 420.3 L473.4 417.4 L476.1 414 L478.8 411 L480.9 407.5 L483.4 404.6 L486.2 402 L488.9 398.9 L491.2 396.2 L493.7 393.9 L496.6 391.4 L498.6 389 L501.6 386.5 L504.2 384.5 L506.6 382 L509.1 379.6 L511.3 377.1 L514.2 374.6 L516.4 371.8 L519.2 369.8 L521.5 367 L524 364.9 L526.8 363.7 L529.4 361.6 L531.9 359.9 L534.5 358.7 L536.5 357.6 L539.1 356.3 L541.6 355.4 L544.5 354.6 L546.6 353.4 L549.2 351.7 L552.1 350.6 L549.4 353 L546.7 355.2 L544.2 357.1 L542.1 358.8 L539 360.8 L536.5 362.5 L534.2 364.2 L531.9 366.7 L529.3 368.6 L526.7 370.8 L524 373 L522 374.9 L519.4 376.6 L516.9 378.6 L514 381 L511.5 383.6 L509.1 385.8 L506.4 388 L503.9 390.4 L501.2 393.2 L498.9 395.5 L496.1 398.2 L493.6 400.4 L491.3 403.2 L489.1 405.7 L486.5 408.2 L483.9 410.5 L480.9 412.5 L478.3 415.4 L476.3 417.6 L473.4 419.7 L470.8 422.4 L468.9 424.7Z"/>
<path class="c" d="M462.7 432.3 L465.5 428.3 L468.5 424.2 L470.6 420.6 L473.3 417.9 L476.1 414.9 L479 411.8 L481.4 408.9 L483.7 405.5 L486.7 403 L489 400.1 L491.5 397.9 L494.6 395.4 L497.5 392.7 L499.9 390.4 L502.6 388.6 L504.7 386 L502.2 389.5 L499.7 391.9 L497.4 395.2 L494.5 397.4 L492.1 400.4 L488.9 402.9 L486.7 406 L484 408.6 L481.2 411.1 L479 414 L475.8 416.9 L473.2 419.3 L470.8 422.4 L468.3 425.3 L465.6 428.2Z"/>
<path class="c" d="M520.2 372 L522.5 369.6 L525.2 367.7 L527.4 365.6 L530.3 363.5 L532.4 362 L535.3 359.7 L537.6 358.9 L540.1 357.1 L543 356 L545.4 354.6 L547.5 352.6 L550.7 351.6 L552.6 349.4 L555.3 348.4 L557.8 346.5 L555.8 348.4 L553.2 350.1 L550.2 351.9 L548 353.8 L545.7 355.9 L542.6 357.5 L540 358.9 L537.5 360.6 L535.5 362.3 L532.3 364 L530.2 365.8 L527.6 367.4 L525.1 369.2 L522.2 370.4Z"/>
<path class="c" d="M473 419.1 L475.5 416 L478.3 413.2 L481 410.7 L483.4 407.6 L486.1 404.9 L488.6 402.2 L491.4 399.7 L493.7 396.9 L496.5 394.7 L499.2 391.9 L501.5 389.5 L504.3 387 L506.9 384.9 L509.5 382 L511.8 379.6" style="stroke-width:0.9;stroke:#fff"/>
<rect class="f" x="403.2" y="298.5" width="267.9" height="177.9"/>
<line class="t" x1="403.2" y1="476.4" x2="403.2" y2="478.9"/>
<text class="tk" x="402.4" y="487.9" text-anchor="middle" textLength="14.5" lengthAdjust="spacingAndGlyphs">-100</text>
<line class="t" x1="470.2" y1="476.4" x2="470.2" y2="478.9"/>
<text class="tk" x="469.4" y="487.9" text-anchor="middle" textLength="10.9" lengthAdjust="spacingAndGlyphs">-50</text>
<line class="t" x1="537.1" y1="476.4" x2="537.1" y2="478.9"/>
<text class="tk" x="536.4" y="487.9" text-anchor="middle" textLength="3.6" lengthAdjust="spacingAndGlyphs">0</text>
<line class="t" x1="604.1" y1="476.4" x2="604.1" y2="478.9"/>
<text class="tk" x="603.3" y="487.9" text-anchor="middle" textLength="7.2" lengthAdjust="spacingAndGlyphs">50</text>
<line class="t" x1="671.1" y1="476.4" x2="671.1" y2="478.9"/>
<text class="tk" x="670.3" y="487.9" text-anchor="middle" textLength="10.8" lengthAdjust="spacingAndGlyphs">100</text>
<line class="t" x1="400.3" y1="476.4" x2="403.2" y2="476.4"/>
<text class="tk" x="395.1" y="478.5" text-anchor="end" textLength="14.5" lengthAdjust="spacingAndGlyphs">-300</text>
<line class="t" x1="400.3" y1="446.8" x2="403.2" y2="446.8"/>
<text class="tk" x="395.1" y="448.9" text-anchor="end" textLength="14.5" lengthAdjust="spacingAndGlyphs">-200</text>
<line class="t" x1="400.3" y1="417.1" x2="403.2" y2="417.1"/>
<text class="tk" x="395.1" y="419.2" text-anchor="end" textLength="10.8" lengthAdjust="spacingAndGlyphs">100</text>
<line class="t" x1="400.3" y1="387.4" x2="403.2" y2="387.4"/>
<text class="tk" x="395.1" y="389.6" text-anchor="end" textLength="3.6" lengthAdjust="spacingAndGlyphs">0</text>
<line class="t" x1="400.3" y1="357.8" x2="403.2" y2="357.8"/>
<text class="tk" x="395.1" y="359.9" text-anchor="end" textLength="10.8" lengthAdjust="spacingAndGlyphs">100</text>
<line class="t" x1="400.3" y1="328.1" x2="403.2" y2="328.1"/>
<text class="tk" x="395.1" y="330.2" text-anchor="end" textLength="10.8" lengthAdjust="spacingAndGlyphs">200</text>
<line class="t" x1="400.3" y1="298.5" x2="403.2" y2="298.5"/>
<text class="tk" x="395.1" y="300.6" text-anchor="end" textLength="10.8" lengthAdjust="spacingAndGlyphs">300</text>
<text class="ax" x="537.1" y="507.7" text-anchor="middle" textLength="77.5" lengthAdjust="spacingAndGlyphs">Displacement (mm)</text>
<text class="ay" transform="translate(371.5 386.4) rotate(-90)" text-anchor="middle" textLength="37.2" lengthAdjust="spacingAndGlyphs">Load (kN)</text>
<text class="cap" x="532.2" y="545.4" text-anchor="middle">(d) R-RC</text>
</g>
<g id="plot-e">
<line class="g" x1="116.6" y1="578.7" x2="116.6" y2="756.8"/>
<line class="g" x1="183.5" y1="578.7" x2="183.5" y2="756.8"/>
<line class="g" x1="250.5" y1="578.7" x2="250.5" y2="756.8"/>
<line class="g" x1="49.6" y1="739" x2="317.5" y2="739"/>
<line class="g" x1="49.6" y1="703.4" x2="317.5" y2="703.4"/>
<line class="g" x1="49.6" y1="667.8" x2="317.5" y2="667.8"/>
<line class="g" x1="49.6" y1="632.1" x2="317.5" y2="632.1"/>
<line class="g" x1="49.6" y1="596.5" x2="317.5" y2="596.5"/>
<path class="c" d="M81.5 727.1 L82.8 724.9 L84.9 722.4 L86.8 720.5 L88.9 718.2 L91.2 715.8 L93 713.3 L95 711.6 L96.9 709.4 L98.8 707.3 L101 705 L102.9 702.6 L104.9 700.4 L106.8 698.4 L109.2 696.5 L111.1 694.6 L113.1 692.7 L115.2 690.1 L116.7 688.2 L118.6 686.1 L121.1 684.4 L122.9 682.2 L125.2 680.2 L127.2 678.1 L128.8 676.3 L130.9 674.3 L132.9 672.4 L135.3 670.4 L137 668.9 L139 667.3 L140.9 665.5 L143.1 663.9 L144.8 661.8 L147.4 660.4 L149.7 658.4 L152.6 657.3 L154.8 655.5 L157.6 654.2 L160.1 653 L162.3 651.5 L164.7 650.6 L167.3 649.3 L170.3 648.6 L172.6 647.6 L175.1 646.6 L177.4 645.2 L179.7 644.1 L182.4 643 L184.8 642 L187.9 640.7 L190.2 639.3 L192.7 637.4 L194.9 636.4 L197.9 635.2 L200.1 633.8 L202.2 632.5 L204.2 630.6 L206.2 628.8 L208.2 627.3 L210.1 624.9 L211.7 622.8 L214.2 620.8 L215.9 619.1 L218.1 616.8 L219.6 615.3 L222.2 613.9 L224 612.5 L225.8 610.7 L227.8 609.6 L230.2 608 L232.3 606.4 L233.8 605.2 L235.9 602.9 L238 604.4 L241.8 602.2 L245.1 600.7 L245.6 602.2 L244.3 604.2 L242.9 606.9 L241.6 609.1 L240.1 611.3 L238.1 614.2 L235.9 616.1 L234 618.4 L232 621.1 L229.8 623.1 L228 625.5 L225.8 628 L223.8 629.8 L221.9 632 L220.3 634 L217.7 635.8 L216.1 638 L214.2 640.3 L212.2 642.1 L210.3 644.7 L207.8 646.8 L206.2 648.9 L203.7 650.8 L202.3 653 L200.1 655 L198 657.5 L195.8 660.1 L193.9 662.1 L192.3 664.7 L189.8 666.7 L188 669.2 L185.5 671.2 L184.1 673 L180.8 676 L179.1 678.6 L177.7 680.5 L176.8 682.8 L175.2 684.9 L173.5 687.1 L171.1 689.6 L169.2 691.7 L166.9 693.7 L165 695.9 L162.7 698.4 L161 700.3 L158.8 701.8 L156.6 703.3 L154.8 704.5 L153 706.8 L151 709.1 L149.1 710.8 L147.1 713 L145.1 715.2 L142.8 717.3 L139.5 719.5 L138.5 718.5 L137.3 720.5 L134.8 721.6 L131.9 722.8 L128.9 724 L126.2 724.9 L123.8 724.8 L122.8 723.5 L121.8 725.4 L119 726.4 L116.4 726.9 L112.8 727.8 L110 728.5 L107.5 728.8 L106.9 726.8 L106.3 728.7 L104.1 729.2 L100.7 729.6 L97.7 729.4 L95.3 729.5 L95.1 727.6 L90 727.6 L89.6 729.8 L86.1 729.8 L82.4 729.2Z"/>
<path class="c" d="M109.5 714.1 L110.1 713 L111.6 710.5 L113 708.4 L115.5 705.2 L117.7 702.6 L119 700.8 L120.9 699 L122.4 697 L124.6 694.8 L126.5 693 L128 690.8 L130.2 689 L132.3 686.6 L134.6 684.9 L136.2 682.7 L138.8 680.6 L140.6 679.1 L142.9 676.8 L144.9 675.1 L147 673.6 L148.7 671.6 L150.9 670 L152.8 668.3 L155.1 666.9 L157.1 665.3 L159.8 663.7 L161.6 662.1 L163.8 660.2 L165.8 658.6 L167.9 657.3 L170.4 655.9 L173 654.1 L175.3 652.3 L177.9 650.6 L179.5 648.9 L181.6 646.9 L184 645.3 L186.1 643.7 L188.1 641.6 L189.8 640.2 L192.7 638.4 L194.9 636.7 L197.5 635.7 L199.9 634 L202.6 632.8 L205.6 630.9 L207.7 629.8 L210.8 627.8 L212.9 626.5 L215.1 625.1 L218.8 622.4 L221.8 620 L223.2 619.6 L223 621 L221.4 623.1 L219.7 625.4 L217.4 628 L215.5 630.8 L213.4 632.4 L212.1 634.4 L210.3 636.2 L208.5 638.5 L206.2 640.3 L204.3 642.3 L202.9 644.2 L200.7 645.6 L199.1 647.9 L196.9 649.6 L195.4 651.5 L193.6 653.4 L191.6 655.1 L190.1 656.6 L187.2 658.3 L185 658.9 L183 660 L180.4 661.5 L178.2 662.6 L176.4 664.1 L174 665.8 L172.2 668 L170.1 669.8 L168 671.2 L165.6 673.1 L163.3 674.7 L161.3 676.1 L159.4 677.8 L157.6 679.9 L155.2 681.2 L152.9 683.1 L151 684.7 L149.1 686.4 L147 687.8 L144.5 689.7 L142.7 691.3 L140.6 693 L138.2 695 L136.1 697 L133.8 698.5 L132.1 700.4 L130.2 701.3 L127.5 703.4 L125.5 704.1 L124.1 705.8 L121.6 707.1 L119.9 708.7 L117.3 710.5 L114.6 712.1 L110.7 713.9Z"/>
<path class="c" d="M150.8 708.3 L151.2 706.6 L153.3 704.2 L154.9 701.3 L156.8 699 L158.7 696.6 L159.8 694.7 L161.5 692.2 L162.8 689.8 L164.8 687.5 L165.9 685.6 L167.7 683.5 L169 681.3 L170.6 678.6 L172 676.6 L173.6 674 L174.8 672.3 L176.3 669.8 L178.1 667.1 L179.6 665 L181.3 662.8 L183 659.8 L183.8 658.1 L184.9 658.8 L184 662.2 L183.5 664.3 L182.2 667.2 L181.6 670.2 L181 672.3 L180.1 675.2 L178.9 677.5 L177.9 679.9 L176.4 682.6 L174.6 685.7 L172.9 688.1 L171.4 690.5 L169 692.9 L167.2 695.3 L165.3 697 L163.3 698.7 L161.1 700.7 L159.2 702.3 L155.8 704.9 L152.8 707.2Z"/>
<path class="c" d="M153.7 706.2 L154.7 704.3 L156.1 702.5 L157.6 700 L158.7 697.7 L160.5 695.3 L161.9 693.2 L163.7 691 L164.8 688.4 L166.3 686 L167.9 683.7 L169.7 681.6 L170.7 679.2 L172.8 676.9 L174.4 674.4 L176.1 672.4 L176.9 670.6"/>
<path class="cf" d="M131.2 696.9 L133.8 693.7 L135.9 690.9 L138.6 687.7 L141.1 685.4 L143.6 682.5 L146.1 680 L148.7 676.9 L151.1 674.4 L153.9 672.2 L155.9 670.1 L158.4 667.7 L161.2 665.7 L163.7 663.3 L166.3 661.6 L168.9 659.1 L171.1 656.9 L174 654.2 L176.5 652.3 L178.8 649.8 L181.5 648.2 L183.7 646.1 L186.3 645 L188.7 643.6 L191.4 642.5 L193.7 641.5 L196.7 640.2 L199.1 638.8 L201.7 637.9 L204.2 637.5 L201.4 641 L198.8 643.5 L196.4 647 L194.2 649.9 L191.4 652.6 L188.9 654.4 L186.5 656.7 L183.8 658 L181.2 659.2 L178.8 661 L176.3 662.7 L173.5 664.9 L171.4 667.3 L168.6 669.1 L166.3 671.1 L163.8 673.6 L161 675.4 L158.8 677.5 L156.3 679.5 L153.5 681.7 L151.4 683.1 L148.9 685.2 L145.9 686.7 L143.8 688.9 L140.9 690.5 L138.6 692.5 L135.9 694.1 L133.4 695.4Z"/>
<path class="c" d="M120.8 706 L123.6 703.1 L125.9 700.2 L128.4 697.2 L131.1 694.6 L133.5 691.9 L136.3 689.5 L138.8 686.7 L141.4 683.5 L144 680.8 L146.3 678.1 L149.2 676.1 L151.5 673.1 L154.1 670.8 L156.8 668.5 L159 666.7 L161.9 664 L164.6 662.3 L166.8 660.1 L169.7 657.6 L172 655.1 L174.6 652.8 L177.3 650.7 L179.4 648.2 L182.4 646.6 L184.8 644.6 L187.2 643 L189.9 640.9 L192.2 639 L195.2 638.1 L197.2 636.5 L200 635.3 L202.5 634.3 L205 632.7 L208 631.3 L210.2 629.6 L212.7 628.3 L215.6 626.4 L217.8 624.7 L220.4 623 L223 620.5 L220.3 623.7 L217.7 626.4 L215 628.9 L212.5 632 L210 634.4 L207.4 637.1 L205.3 640.2 L202.9 643.2 L200.1 646 L197.2 648.8 L194.9 651.2 L192.6 654.2 L189.8 655.8 L187.6 657.8 L184.8 659 L181.9 659.5 L179.4 660.9 L177.2 663.3 L174.3 665 L171.8 667.4 L169.6 669.8 L166.8 671.9 L164.3 673.6 L161.6 675.5 L159.6 678.1 L156.8 679.6 L153.9 681.6 L151.5 684 L148.7 685.8 L146.6 687.3 L143.9 689.7 L141.5 691.3 L139.1 693.3 L136.2 695 L134.1 697.2 L131.5 698.8 L128.4 700.4 L126 702.7 L123.2 704.7Z"/>
<path class="c" d="M127.2 700.6 L129.2 697.9 L132 695.2 L134.7 692.7 L137.1 690.3 L140 687.7 L142.3 684.8 L144.7 682.2 L147.6 680.1 L150.1 677.6 L152.8 675.1 L154.8 672.9 L157.3 670.6 L159.8 668.6 L162.6 666.1 L165.4 663.9 L168 662.2 L170 659.9 L172.8 657.6 L175.4 654.9 L178.2 652.4 L180.6 650.5 L182.8 648.7 L185.7 647.3 L188.2 645.5 L190.7 644.1 L192.8 642.4 L195.8 640.6 L198.3 639.1 L200.7 637.9 L203.6 636.3 L205.8 634.3 L208.6 632.7 L210.9 631.1 L213.4 629.3 L216 627 L213.6 629.6 L211 632.1 L208.7 634.9 L206 637.1 L203.4 639.7 L200.6 642.5 L197.9 644.8 L195.4 647.6 L193.4 649.4 L190.5 652 L188.2 653.9 L185.4 655.4 L182.7 656 L180.6 657.5 L177.6 659.6 L175.2 661.5 L173.1 663.9 L170.4 665.9 L168 668.1 L165.4 670.4 L162.9 672.6 L160.1 674.5 L157.8 676.5 L154.7 678.9 L152.6 680.8 L150.1 682.5 L147.3 684.9 L145.1 687 L142 688.8 L139.8 690.6 L136.9 692.5 L134.6 694.7 L131.9 696.6 L129.6 698.9Z"/>
<path class="c" d="M124.1 703.2 L126.8 700.7 L129.4 698.5 L131.4 695.7 L134.5 693.1 L136.8 690.7 L139 688.2 L141.6 686 L144.5 683.9 L147.3 681.6 L149.5 679.5 L152.2 677 L154.9 674.8 L157.1 672.6 L159.6 670.9 L162.2 669 L164.6 666.4 L167.5 664.6 L170 662.9 L167.7 666 L165 668.5 L162.7 670.6 L159.9 672.4 L156.9 674.9 L155 677 L152.2 678.9 L149.5 681.7 L147.1 683.9 L144.1 685.7 L141.7 688.3 L139.1 690.6 L136.6 692.8 L134.2 694.6 L132 696.8 L129.2 698.8 L126.8 701.6Z"/>
<path class="c" d="M184.7 651.6 L187.4 649.2 L190 647.6 L193 645.7 L195.6 643.4 L198 641 L200.6 639.3 L202.9 637.5 L205.4 635 L207.9 633 L210.8 631.4 L213 629.2 L215.9 627.1 L218.4 624.9 L220.7 622.3 L218.4 625 L216 627.5 L213.5 629.8 L210.4 632.3 L208.1 634.5 L205.8 636.6 L203.1 639.2 L200.4 641.1 L198.2 643.4 L195.1 645.2 L192.4 647.3 L189.9 649.3 L187.5 650.4Z"/>
<rect class="f" x="49.6" y="578.7" width="267.9" height="178.1"/>
<line class="t" x1="49.6" y1="756.8" x2="49.6" y2="759.3"/>
<text class="tk" x="48.8" y="768.3" text-anchor="middle" textLength="14.5" lengthAdjust="spacingAndGlyphs">-100</text>
<line class="t" x1="116.6" y1="756.8" x2="116.6" y2="759.3"/>
<text class="tk" x="115.8" y="768.3" text-anchor="middle" textLength="10.9" lengthAdjust="spacingAndGlyphs">-50</text>
<line class="t" x1="183.5" y1="756.8" x2="183.5" y2="759.3"/>
<text class="tk" x="182.7" y="768.3" text-anchor="middle" textLength="3.6" lengthAdjust="spacingAndGlyphs">0</text>
<line class="t" x1="250.5" y1="756.8" x2="250.5" y2="759.3"/>
<text class="tk" x="249.7" y="768.3" text-anchor="middle" textLength="7.2" lengthAdjust="spacingAndGlyphs">50</text>
<line class="t" x1="317.5" y1="756.8" x2="317.5" y2="759.3"/>
<text class="tk" x="316.7" y="768.3" text-anchor="middle" textLength="10.8" lengthAdjust="spacingAndGlyphs">100</text>
<line class="t" x1="46.7" y1="739" x2="49.6" y2="739"/>
<text class="tk" x="41.5" y="741.1" text-anchor="end" textLength="14.5" lengthAdjust="spacingAndGlyphs">-200</text>
<line class="t" x1="46.7" y1="703.4" x2="49.6" y2="703.4"/>
<text class="tk" x="41.5" y="705.5" text-anchor="end" textLength="14.5" lengthAdjust="spacingAndGlyphs">-100</text>
<line class="t" x1="46.7" y1="667.8" x2="49.6" y2="667.8"/>
<text class="tk" x="41.5" y="669.9" text-anchor="end" textLength="3.6" lengthAdjust="spacingAndGlyphs">0</text>
<line class="t" x1="46.7" y1="632.1" x2="49.6" y2="632.1"/>
<text class="tk" x="41.5" y="634.2" text-anchor="end" textLength="10.8" lengthAdjust="spacingAndGlyphs">100</text>
<line class="t" x1="46.7" y1="596.5" x2="49.6" y2="596.5"/>
<text class="tk" x="41.5" y="598.6" text-anchor="end" textLength="10.8" lengthAdjust="spacingAndGlyphs">200</text>
<text class="ax" x="183.6" y="788.1" text-anchor="middle" textLength="77.5" lengthAdjust="spacingAndGlyphs">Displacement (mm)</text>
<text class="ay" transform="translate(17.9 666.8) rotate(-90)" text-anchor="middle" textLength="37.2" lengthAdjust="spacingAndGlyphs">Load (kN)</text>
<text class="cap" x="176.6" y="822.4" text-anchor="middle">(e) R-PU</text>
</g>
<g id="plot-f">
<line class="g" x1="470" y1="578.7" x2="470" y2="756.6"/>
<line class="g" x1="537" y1="578.7" x2="537" y2="756.6"/>
<line class="g" x1="604.1" y1="578.7" x2="604.1" y2="756.6"/>
<line class="g" x1="403" y1="727" x2="671.1" y2="727"/>
<line class="g" x1="403" y1="697.3" x2="671.1" y2="697.3"/>
<line class="g" x1="403" y1="667.7" x2="671.1" y2="667.7"/>
<line class="g" x1="403" y1="638" x2="671.1" y2="638"/>
<line class="g" x1="403" y1="608.4" x2="671.1" y2="608.4"/>
<path class="c" d="M453.5 738 L454.1 735.2 L455.6 732.6 L457.2 730.7 L458.5 728 L459.8 725.6 L461.9 723.3 L463.2 720.7 L464.8 718.2 L466.6 715.9 L468.5 714.4 L470.1 712 L472.1 709.9 L474 707.3 L476.2 704.7 L477.5 702.8 L479.2 700.2 L481.1 698.4 L482.5 695.9 L484.5 693.4 L486.1 691.6 L488 688.8 L489.4 686.8 L491.8 684.5 L493.1 681.8 L495.1 679.3 L497.2 677 L499.2 674.7 L501.3 672.7 L502.7 670.3 L504.4 668.1 L506.3 666.4 L507.7 664.8 L509.6 662.2 L512.2 659.8 L513.8 658 L516 656.6 L517.6 655.1 L521.2 653.1 L523 651.9 L525.3 649.6 L527.5 648.2 L530.2 646.6 L532.5 645.1 L535.5 643.2 L537.9 642.1 L540.4 640.2 L543.2 639.1 L546.3 636.9 L548.2 635.5 L550.2 633.6 L552.3 631.8 L554.3 630 L555.8 628.5 L558 626.9 L559.9 625.6 L562.1 623.8 L563.9 622.3 L566.1 620.5 L568.2 618.5 L570 616.9 L572.3 615 L574.3 612.8 L575.8 611.3 L578.7 608.6 L580.9 606.9 L584.3 605.8 L584.4 607.7 L582.9 610.5 L580.9 613.9 L579.4 616.4 L577.9 618.5 L575.8 621.2 L574.2 623.5 L572.1 625.9 L569.9 627.7 L567.9 629.7 L566.3 631.9 L564.1 634.3 L562.7 635.7 L560.9 637.6 L559.7 640.1 L558 641.9 L556.4 644 L555.1 646.2 L553.7 648.2 L552 650 L550.4 652.5 L548.7 654.3 L547.3 657.1 L546.2 658.9 L544.4 662 L542.5 664.3 L541.2 666.9 L539.4 669.5 L538.3 671.3 L537.1 673.9 L535.6 676.4 L534.6 679.1 L533.3 682.5 L531.9 685.1 L530.6 687.3 L528.8 689.9 L527.6 691.8 L525.8 694.2 L524.3 696.3 L522.1 698.8 L519.9 700.7 L517.5 703.3 L515.1 705.4 L512.6 707.4 L510.9 709.7 L509.3 712.1 L507.6 714.2 L504.9 717.1 L502.6 719.2 L501 719.3 L500.4 721.6 L498.3 724.1 L495.2 728 L491.6 730.7 L490.6 729.5 L489.8 732 L486.4 734.1 L482.9 736.3 L480.8 736.6 L480.2 734.1 L479.1 736.6 L475.6 738.7 L471.8 740.2 L470.2 740.2 L469.5 737.3 L468.7 740 L466.7 741 L463.8 742.1 L460 743 L456.1 743.6 L454.3 741.4Z"/>
<path class="c" d="M514.1 707 L514.2 705.4 L516 702.9 L517.2 699.9 L519 696.9 L520.1 694.9 L521.4 692.4 L523 690.1 L523.9 687.8 L525.4 685.8 L526.5 683.4 L527.7 681.4 L529 679.2 L530.4 676.1 L531.5 672.8 L533.3 670.1 L534.2 667 L535.1 663.9 L535.8 662.1 L537.7 660.9 L537.6 663.7 L537.1 667.8 L536.5 670.8 L535.8 673.8 L535 677.1 L533.9 679.6 L533.2 682.4 L532.1 685.2 L530.9 687.5 L529.5 690.6 L528 693.2 L526.1 695.4 L524.5 697.9 L522.1 699.8 L519.9 701.9 L517.6 704.8 L515.3 706.3Z"/>
<path class="c" d="M516.2 704.3 L517.1 702.9 L517.9 700.8 L519.6 698.2 L521.1 695.5 L522.5 693.1 L523.8 690.9 L524.5 688.6 L525.7 686.2 L527.8 683.1 L529.1 680.1 L530.4 678.3"/>
<path class="cf" d="M490.2 704.7 L492.9 700.1 L495.3 696.1 L498 692.4 L500.4 688.1 L502.6 684.7 L505.4 680.8 L508.2 677.1 L510.6 674.3 L513.3 671.4 L515.5 668.9 L518.1 665.9 L521 662.3 L523.5 658.5 L525.7 654.3 L528.8 651.5 L531 649.2 L533.3 647.6 L536.3 646.1 L538.7 644 L541.2 642.6 L544 640.9 L546.4 639.3 L549.3 638.8 L546.4 642.8 L543.7 646 L541.2 649.3 L538.5 652.4 L536.3 656.7 L533.5 660.9 L530.9 664.2 L528.2 667.2 L525.8 670.1 L523.4 672.8 L520.9 675.3 L518.4 678.1 L515.9 681 L513.2 683.6 L510.5 686.1 L508.2 688.5 L505.2 691.3 L502.8 693.8 L500.1 696.9 L497.6 699 L494.9 701.6 L492.4 703.4Z"/>
<path class="c" d="M482 715.1 L484.6 712.2 L486.8 707.4 L489.4 702.4 L492.4 699.2 L494.8 695.4 L497.5 691.8 L500 688 L502.4 684.6 L504.8 681 L507.2 677.6 L510.2 674 L512.6 671.4 L514.9 668.6 L517.9 665.2 L520.1 662.1 L522.6 658.3 L525.3 654.1 L527.7 651.1 L530.3 648.9 L533.1 646.4 L535.3 644.4 L538 642.5 L540.8 640.9 L543.5 638.4 L545.4 636.7 L548.2 634.7 L550.7 632.3 L553.1 630.9 L555.9 628.9 L558.4 627.6 L561.2 625.9 L563.3 624.3 L566.4 622.4 L568.8 620.1 L571.2 617.3 L573.6 614.7 L576.6 612.4 L578.8 611.3 L581.7 609.1 L578.9 611.8 L576.5 614.1 L573.5 616.8 L571.4 620.8 L568.4 624.7 L566.2 628.3 L563.2 630.9 L560.9 633.4 L558.3 635.1 L556 637.3 L553.6 639.6 L550.8 642.3 L548 644.6 L545.4 647.2 L542.8 649.6 L540.5 652 L538 655.4 L535.5 659.1 L533 662.8 L530.8 665.9 L527.8 668.6 L525.7 671.4 L522.9 674.5 L520.2 677.2 L517.5 679.4 L514.8 682.1 L512.8 684.5 L510 687.3 L507.3 689.4 L505 692.2 L502.7 695.3 L499.7 697.9 L497.2 700.3 L494.7 703.4 L492.1 705.3 L489.8 706.8 L487.4 709.3 L484.4 712.9Z"/>
<path class="c" d="M486.7 708.4 L489.2 704.4 L491.7 701 L494.3 697.7 L496.7 694.4 L499.5 690.9 L502.2 687.6 L504.3 684.1 L507.2 680.7 L509.7 677.6 L512.3 674.9 L514.6 672.5 L516.7 669.2 L519.6 666.7 L522.2 663.2 L524.5 659.3 L527 656 L529.6 653.4 L531.8 651.4 L534.2 649.3 L537 646.5 L539.2 644.4 L542 642.3 L544.4 639.9 L547.3 637.7 L549.8 636.1 L552.3 634.2 L554.3 632.4 L557.1 630.3 L559.8 629.1 L562.2 627.5 L564.2 625.9 L566.8 623.3 L569.6 620.5 L572 618 L569.2 621.8 L566.7 625.2 L564.6 628.2 L561.7 630.1 L559.8 632.3 L556.9 634.2 L554.6 636.5 L552.1 638.5 L549.5 640.9 L546.8 643.6 L544.8 645.8 L542.3 648.1 L539.7 650.6 L537.2 654 L534.8 657.6 L532.3 660.1 L529.7 662.9 L526.9 665.6 L524.7 668.8 L522.2 671.7 L519.3 674.2 L517 676.9 L514.4 679.3 L511.8 682.3 L509.3 684.9 L506.9 687.5 L504.4 689.9 L501.9 692.6 L499.5 695.7 L496.7 698.9 L494.4 700.9 L492.3 703.4 L489.3 705.4Z"/>
<path class="c" d="M483.7 713.4 L486.6 708.9 L489 704.7 L492 701.6 L494.6 698.9 L496.6 695.8 L499.1 692.4 L502.2 689.1 L504.6 685.9 L506.9 682.6 L509.6 679.6 L512.1 677.2 L514.9 674.7 L517.5 672.2 L520.3 670.2 L517.5 673.4 L515.2 676.5 L512 679.4 L509.9 682.7 L507.2 685.5 L504.9 688.6 L502 691.6 L499.6 694.7 L496.6 698.2 L494.5 700.9 L491.8 703.9 L488.9 705.9 L486.6 709.3Z"/>
<rect class="f" x="403" y="578.7" width="268.1" height="177.9"/>
<line class="t" x1="403" y1="756.6" x2="403" y2="759.1"/>
<text class="tk" x="402.2" y="768.1" text-anchor="middle" textLength="14.5" lengthAdjust="spacingAndGlyphs">-100</text>
<line class="t" x1="470" y1="756.6" x2="470" y2="759.1"/>
<text class="tk" x="469.2" y="768.1" text-anchor="middle" textLength="10.9" lengthAdjust="spacingAndGlyphs">-50</text>
<line class="t" x1="537" y1="756.6" x2="537" y2="759.1"/>
<text class="tk" x="536.2" y="768.1" text-anchor="middle" textLength="3.6" lengthAdjust="spacingAndGlyphs">0</text>
<line class="t" x1="604.1" y1="756.6" x2="604.1" y2="759.1"/>
<text class="tk" x="603.3" y="768.1" text-anchor="middle" textLength="7.2" lengthAdjust="spacingAndGlyphs">50</text>
<line class="t" x1="671.1" y1="756.6" x2="671.1" y2="759.1"/>
<text class="tk" x="670.3" y="768.1" text-anchor="middle" textLength="10.8" lengthAdjust="spacingAndGlyphs">100</text>
<line class="t" x1="400.1" y1="756.6" x2="403" y2="756.6"/>
<text class="tk" x="394.9" y="758.7" text-anchor="end" textLength="14.5" lengthAdjust="spacingAndGlyphs">-300</text>
<line class="t" x1="400.1" y1="727" x2="403" y2="727"/>
<text class="tk" x="394.9" y="729.1" text-anchor="end" textLength="14.5" lengthAdjust="spacingAndGlyphs">-200</text>
<line class="t" x1="400.1" y1="697.3" x2="403" y2="697.3"/>
<text class="tk" x="394.9" y="699.4" text-anchor="end" textLength="10.8" lengthAdjust="spacingAndGlyphs">100</text>
<line class="t" x1="400.1" y1="667.7" x2="403" y2="667.7"/>
<text class="tk" x="394.9" y="669.8" text-anchor="end" textLength="3.6" lengthAdjust="spacingAndGlyphs">0</text>
<line class="t" x1="400.1" y1="638" x2="403" y2="638"/>
<text class="tk" x="394.9" y="640.1" text-anchor="end" textLength="10.8" lengthAdjust="spacingAndGlyphs">100</text>
<line class="t" x1="400.1" y1="608.4" x2="403" y2="608.4"/>
<text class="tk" x="394.9" y="610.5" text-anchor="end" textLength="10.8" lengthAdjust="spacingAndGlyphs">200</text>
<line class="t" x1="400.1" y1="578.7" x2="403" y2="578.7"/>
<text class="tk" x="394.9" y="580.8" text-anchor="end" textLength="10.8" lengthAdjust="spacingAndGlyphs">300</text>
<text class="ax" x="537" y="789.1" text-anchor="middle" textLength="77.5" lengthAdjust="spacingAndGlyphs">Displacement (mm)</text>
<text class="ay" transform="translate(371.3 666.7) rotate(-90)" text-anchor="middle" textLength="37.2" lengthAdjust="spacingAndGlyphs">Load (kN)</text>
<text class="cap" x="535" y="817.9" text-anchor="middle">(f) R-GFPU</text>
</g>
</svg>
</body></html>
